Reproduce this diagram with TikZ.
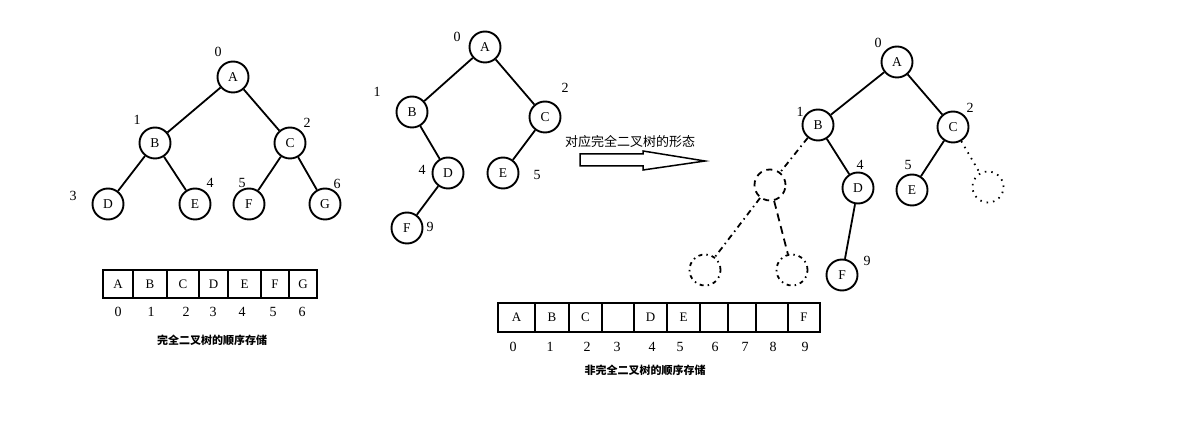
\documentclass[tikz,border=0pt]{standalone}
\usepackage{fontspec}
\setmainfont{Liberation Serif}
\newfontfamily\cjk{Noto Sans CJK SC}
\begin{document}
\begin{tikzpicture}[x=1pt,y=-1pt,
  tn/.style={circle,draw,line width=1.9pt,minimum size=31pt,inner sep=0pt,font=\fontsize{13.5}{15}\selectfont},
  gn/.style={circle,minimum size=31pt,inner sep=0pt},
  lbl/.style={font=\fontsize{14}{16}\selectfont,inner sep=0pt},
  tedge/.style={line width=1.8pt},
  cellbox/.style={draw,line width=1.8pt,inner sep=0pt,font=\fontsize{13}{15}\selectfont},
  idx/.style={font=\fontsize{14}{16}\selectfont,inner sep=0pt},
  captxt/.style={font=\cjk\bfseries\fontsize{11}{13}\selectfont,inner sep=0pt}]
\useasboundingbox (0,0) rectangle (1179,435);
% ---------- tree 1 ----------
\node[tn] (a1) at (233,77) {A};
\node[tn] (b1) at (155,143) {B};
\node[tn] (c1) at (290,143) {C};
\node[tn] (d1) at (108,204) {D};
\node[tn] (e1) at (195,204) {E};
\node[tn] (f1) at (249,204) {F};
\node[tn] (g1) at (325,204) {G};
\draw[tedge] (a1)--(b1) (a1)--(c1) (b1)--(d1) (b1)--(e1) (c1)--(f1) (c1)--(g1);
\node[lbl] (l10) at (218,52) {0};
\node[lbl] (l11) at (137,120) {1};
\node[lbl] (l12) at (307,123) {2};
\node[lbl] (l13) at (73,196) {3};
\node[lbl] (l14) at (210,183) {4};
\node[lbl] (l15) at (242,183) {5};
\node[lbl] (l16) at (337,184) {6};
% ---------- array 1 ----------
\foreach \nm/\xa/\xb/\t in {c0/103/133/A,c1/133/167/B,c2/167/199/C,c3/199/228/D,c4/228/261/E,c5/261/289/F,c6/289/317/G}{
  \node[cellbox,minimum height=28pt,minimum width={(\xb-\xa)*1pt}] (\nm) at ({(\xa+\xb)/2},284) {\t};
}
\foreach \nm/\x/\t in {i0/118/0,i1/151/1,i2/186/2,i3/213/3,i4/242/4,i5/273/5,i6/302/6}{
  \node[idx] (\nm) at (\x,312) {\t};
}
\node[captxt] (cap1) at (212,340) {完全二叉树的顺序存储};
% ---------- tree 2 ----------
\node[tn] (a2) at (485,47) {A};
\node[tn] (b2) at (412,112) {B};
\node[tn] (c2) at (545,117) {C};
\node[tn] (d2) at (448,173) {D};
\node[tn] (e2) at (503,173) {E};
\node[tn] (f2) at (407,228) {F};
\draw[tedge] (a2)--(b2) (a2)--(c2) (b2)--(d2) (c2)--(e2) (d2)--(f2);
\node[lbl] (l20) at (457,37) {0};
\node[lbl] (l21) at (377,92) {1};
\node[lbl] (l22) at (565,88) {2};
\node[lbl] (l24) at (422,170) {4};
\node[lbl] (l25) at (537,175) {5};
\node[lbl] (l29) at (430,227) {9};
% ---------- arrow ----------
\node[font=\cjk\fontsize{13}{15}\selectfont,inner sep=0pt] (arrtxt) at (630,142) {对应完全二叉树的形态};
\draw[line width=1.5pt,line join=miter] (580,154)--(643,154)--(643,151)--(705,161)--(643,170)--(643,166)--(580,166)--cycle;
% ---------- tree 3 ----------
\node[tn] (a3) at (897,62) {A};
\node[tn] (b3) at (818,125) {B};
\node[tn] (c3) at (953,127) {C};
\node[tn] (d3) at (858,188) {D};
\node[tn] (e3) at (912,190) {E};
\node[tn] (f3) at (842,275) {F};
\draw[tedge] (a3)--(b3) (a3)--(c3) (b3)--(d3) (c3)--(e3) (d3)--(f3);
\node[gn,draw,line width=1.8pt,dash pattern=on 6pt off 5pt] (x3) at (770,185) {};
\node[gn,draw,line width=1.8pt,dash pattern=on 1.5pt off 5pt] (y3) at (988,187) {};
\node[gn,draw,line width=1.8pt,dash pattern=on 4pt off 4pt on 1.5pt off 4pt] (u3) at (705,270) {};
\node[gn,draw,line width=1.8pt,dash pattern=on 4pt off 4pt on 1.5pt off 4pt] (v3) at (792,270) {};
\draw[tedge,dash pattern=on 6pt off 4pt on 1.5pt off 4pt] (b3)--(x3);
\draw[tedge,dash pattern=on 1.5pt off 5pt] (c3)--(y3);
\draw[tedge,dash pattern=on 6pt off 4pt on 1.5pt off 4pt] (x3)--(u3);
\draw[tedge,dash pattern=on 8pt off 5pt] (x3)--(v3);
\node[lbl] (l30) at (878,43) {0};
\node[lbl] (l31) at (800,112) {1};
\node[lbl] (l32) at (970,108) {2};
\node[lbl] (l34) at (860,165) {4};
\node[lbl] (l35) at (908,165) {5};
\node[lbl] (l39) at (867,261) {9};
% ---------- array 2 ----------
\foreach \nm/\xa/\xb/\t in {k0/498/535/A,k1/535/569/B,k2/569/602/C,k3/602/634/{},k4/634/667/D,k5/667/700/E,k6/700/728/{},k7/728/756/{},k8/756/788/{},k9/788/820/F}{
  \node[cellbox,minimum height=29pt,minimum width={(\xb-\xa)*1pt}] (\nm) at ({(\xa+\xb)/2},317.5) {\t};
}
\foreach \nm/\x/\t in {j0/513/0,j1/550/1,j2/587/2,j3/617/3,j4/652/4,j5/680/5,j6/715/6,j7/745/7,j8/773/8,j9/805/9}{
  \node[idx] (\nm) at (\x,347) {\t};
}
\node[captxt] (cap2) at (645,370) {非完全二叉树的顺序存储};
\end{tikzpicture}
\end{document}
